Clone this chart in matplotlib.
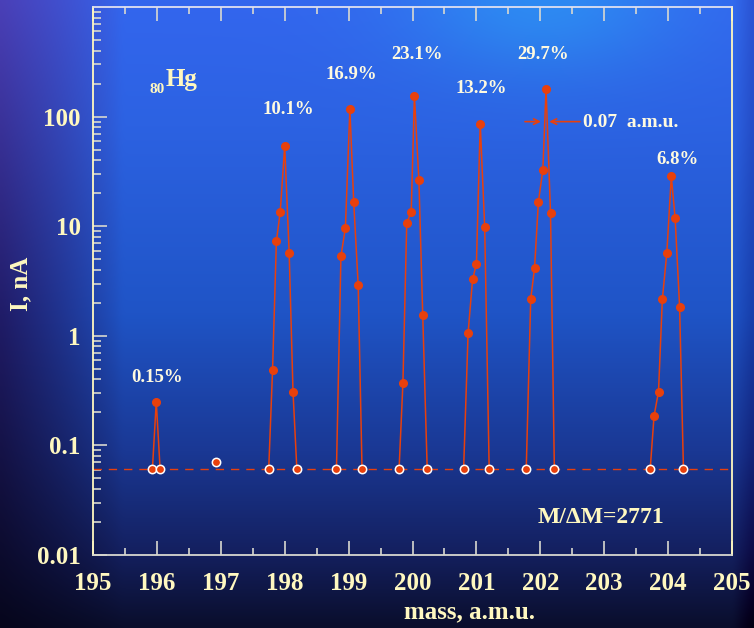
import numpy as np
import matplotlib
matplotlib.use("Agg")
import matplotlib.pyplot as plt
from matplotlib.colors import to_rgb
from matplotlib.ticker import FixedLocator, FixedFormatter, LogLocator, NullFormatter

# ---------------- data ----------------
peak196_m = [195.93, 195.99, 196.05]
peak196_i = [0.061, 0.25, 0.061]
peak198_m = [197.75, 197.81, 197.87, 197.93, 198.00, 198.07, 198.13, 198.19]
peak198_i = [0.061, 0.49, 7.3, 13.5, 54, 5.7, 0.31, 0.061]
peak199_m = [198.81, 198.88, 198.95, 199.02, 199.08, 199.15, 199.21]
peak199_i = [0.061, 5.3, 9.7, 117, 16.6, 2.9, 0.061]
peak200_m = [199.79, 199.85, 199.91, 199.98, 200.03, 200.10, 200.16, 200.23]
peak200_i = [0.061, 0.37, 10.7, 13.6, 155, 26.4, 1.56, 0.061]
peak201_m = [200.80, 200.87, 200.94, 201.00, 201.06, 201.13, 201.20]
peak201_i = [0.061, 1.06, 3.27, 4.5, 86, 9.75, 0.061]
peak202_m = [201.78, 201.85, 201.91, 201.97, 202.04, 202.09, 202.16, 202.22]
peak202_i = [0.061, 2.16, 4.15, 16.6, 32.8, 177, 13.1, 0.061]
peak204_m = [203.72, 203.78, 203.85, 203.91, 203.98, 204.05, 204.11, 204.18, 204.24]
peak204_i = [0.061, 0.185, 0.31, 2.16, 5.7, 28.5, 11.9, 1.84, 0.061]
lone_m = [196.92]
lone_i = [0.071]
baseline_level = 0.061

abund_labels = ["0.15%", "10.1%", "16.9%", "23.1%", "13.2%", "29.7%", "6.8%"]
abund_m = [196.0, 198.05, 199.05, 200.07, 201.07, 202.04, 204.14]
abund_i = [0.42, 116, 242, 368, 180, 368, 40.5]

xticks = [195, 196, 197, 198, 199, 200, 201, 202, 203, 204, 205]
yticks = [0.01, 0.1, 1, 10, 100]
ytick_labels = ["0.01", "0.1", "1", "10", "100"]

# ---------------- style ----------------
W, H = 754, 628
fig = plt.figure(figsize=(W / 100, H / 100), dpi=100)

# background gradient (decorative)
bg = fig.add_axes([0, 0, 1, 1], zorder=-10)
ny, nx = 160, 190
yy, xx = np.mgrid[0:1:ny * 1j, 0:1:nx * 1j]
ys = [0, 0.2, 0.5, 0.72, 0.88, 1.0]
base_cols = [to_rgb(c) for c in ["#3366ee", "#2c62e2", "#1f54c6", "#1a3894", "#142060", "#0a0e2c"]]
left_ys = [0, 0.5, 1.0]
left_cols = [to_rgb(c) for c in ["#4a40b8", "#201c68", "#06061c"]]
img = np.zeros((ny, nx, 3))
for c in range(3):
    base = np.interp(yy[:, 0], ys, [bc[c] for bc in base_cols])[:, None]
    left = np.interp(yy[:, 0], left_ys, [lc[c] for lc in left_cols])[:, None]
    w = np.clip(1 - xx / 0.16, 0, 1) ** 0.8
    img[..., c] = base * (1 - w) + left * w
# cyan highlight at top right
glow = np.exp(-(((xx - 0.72) / 0.18) ** 2 + (yy / 0.12) ** 2))
img += glow[..., None] * np.array([-0.02, 0.14, 0.02])
# right strip slightly darker
rs = np.clip((xx - 0.975) / 0.025, 0, 1)
img -= rs[..., None] * np.array([0.03, 0.08, 0.1])
img = np.clip(img, 0, 1)
bg.imshow(img, aspect="auto", extent=[0, 1, 0, 1], origin="upper", interpolation="bicubic")
bg.set_axis_off()

ax = fig.add_axes([93 / W, 1 - 555 / H, (732 - 93) / W, (555 - 7) / H])
ax.set_facecolor("none")
ax.set_yscale("log")
ax.set_xlim(195, 205)
ax.set_ylim(0.01, 1000)

serif = ["Liberation Serif", "DejaVu Serif"]
cream = "#fff8c0"
orange = "#e8400c"

ax.axhline(baseline_level, color=orange, lw=1.0, ls=(0, (6, 5)), zorder=2)

peaks = [(peak196_m, peak196_i), (peak198_m, peak198_i), (peak199_m, peak199_i),
         (peak200_m, peak200_i), (peak201_m, peak201_i), (peak202_m, peak202_i),
         (peak204_m, peak204_i)]
for m, i in peaks:
    ax.plot(m, i, color=orange, lw=1.1, zorder=3)
    ax.plot(m[1:-1], i[1:-1], ls="none", marker="o", ms=5.5, color=orange, mec=orange, zorder=4)
    ax.plot([m[0], m[-1]], [i[0], i[-1]], ls="none", marker="o", ms=6, color=orange,
            mec="white", mew=1.1, zorder=4)
ax.plot(lone_m, lone_i, ls="none", marker="o", ms=6, color=orange, mec="white", mew=1.1, zorder=4)

for lab, m, v in zip(abund_labels, abund_m, abund_i):
    ax.text(m, v, lab, ha="center", va="center", color="#fffae0", fontsize=13.5,
            fontweight="bold", family=serif)

# resolution arrows
ax.annotate("", xy=(202.01, 90), xytext=(201.76, 90),
            arrowprops=dict(arrowstyle="->", color=orange, lw=1.2, shrinkA=0, shrinkB=0))
ax.annotate("", xy=(202.14, 90), xytext=(202.62, 90),
            arrowprops=dict(arrowstyle="->", color=orange, lw=1.2, shrinkA=0, shrinkB=0))
ax.text(202.67, 89, "0.07  a.m.u.", ha="left", va="center", color="#fffae0", fontsize=14,
        fontweight="bold", family=serif)

ax.text(202.95, 0.0222, "M/\u0394M=2771", ha="center", va="center", color=cream,
        fontsize=17, fontweight="bold", family=serif)
ax.text(196.38, 218, "Hg", ha="center", va="center", color=cream, fontsize=18,
        fontweight="bold", family=serif)
ax.text(196.0, 178, "80", ha="center", va="center", color=cream, fontsize=11,
        fontweight="bold", family=serif)

# axes styling
ax.xaxis.set_major_locator(FixedLocator(xticks))
ax.xaxis.set_minor_locator(FixedLocator([x + 0.5 for x in xticks[:-1]]))
ax.yaxis.set_major_locator(FixedLocator(yticks))
ax.yaxis.set_major_formatter(FixedFormatter(ytick_labels))
ax.yaxis.set_minor_locator(LogLocator(base=10, subs=np.arange(2, 10)))
ax.yaxis.set_minor_formatter(NullFormatter())

ax.tick_params(axis="x", which="both", direction="in", top=True, bottom=True,
               colors="#d8d8d0", labelcolor=cream)
ax.tick_params(axis="x", which="major", length=10, width=1.2, pad=12)
ax.tick_params(axis="x", which="minor", length=5, width=1.2)
ax.tick_params(axis="y", which="both", direction="in", left=True, right=False,
               colors="#d8d8d0", labelcolor=cream)
ax.tick_params(axis="y", which="major", length=10, width=1.2, pad=9)
ax.tick_params(axis="y", which="minor", length=6, width=1.2)
for lab in ax.get_xticklabels() + ax.get_yticklabels():
    lab.set_fontfamily(serif)
    lab.set_fontweight("bold")
    lab.set_fontsize(18)

ax.spines["left"].set_color(cream)
ax.spines["right"].set_color(cream)
ax.spines["top"].set_color("#e0e0f0")
ax.spines["bottom"].set_color("#d8d8d0")
for s in ax.spines.values():
    s.set_linewidth(1.3)

fig.text(470 / W, 1 - 612 / H, "mass, a.m.u.", ha="center", va="center", color=cream,
         fontsize=18, fontweight="bold", family=serif)
fig.text(21 / W, 1 - 284 / H, "I, nA", ha="center", va="center", rotation=90, color=cream,
         fontsize=18, fontweight="bold", family=serif)

fig.savefig("out.png", dpi=100)
